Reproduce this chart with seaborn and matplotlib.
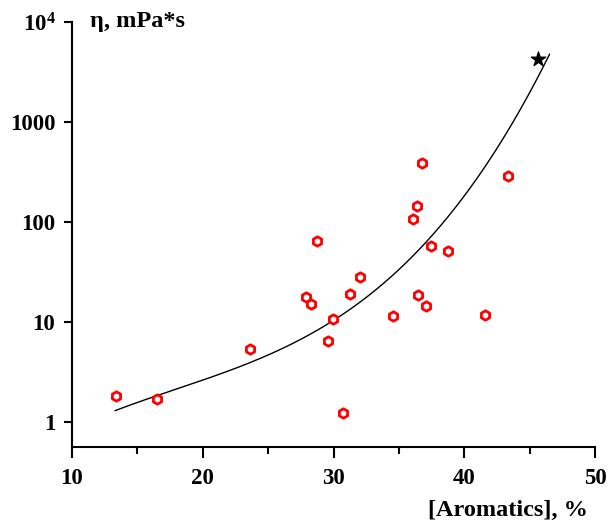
import numpy as np
import pandas as pd
import matplotlib
matplotlib.use("Agg")
import matplotlib.pyplot as plt
from matplotlib.ticker import FixedLocator, FixedFormatter, NullLocator, MultipleLocator
import seaborn as sns

# scatter data
aromatics = [13.37, 16.48, 23.6, 27.9, 28.3, 28.7, 29.55, 29.96, 30.7, 31.3, 32.0,
             34.55, 36.1, 36.4, 36.45, 36.8, 37.1, 37.46, 38.76, 41.6, 43.35]
viscosity = [1.82, 1.70, 5.37, 17.8, 15.1, 64.6, 6.5, 10.6, 1.23, 19.0, 28.0,
             11.5, 107, 145, 18.6, 389, 14.5, 57.5, 51.0, 11.7, 288]
star_x = [45.64]
star_y = [4270]

# fitted trend: log10(eta) = cubic polynomial in aromatics
fit_coeffs = [8.94086e-05, -0.00481059, 0.130383, -0.979754]
fit_range = [13.29, 46.53]

y_ticks = [1, 10, 100, 1000, 10000]
y_tick_labels = ["1", "10", "100", "1000", r"$\mathbf{10^4}$"]
x_ticks = [10, 20, 30, 40, 50]

sns.set_style("ticks")
plt.rcParams['font.family'] = ['Liberation Serif', 'DejaVu Serif']
plt.rcParams['font.weight'] = 'bold'
plt.rcParams['text.color'] = 'black'
plt.rcParams['mathtext.fontset'] = 'custom'
plt.rcParams['mathtext.rm'] = 'Liberation Serif'
plt.rcParams['mathtext.bf'] = 'Liberation Serif:bold'

fig = plt.figure(figsize=(6.1, 5.27), dpi=100)
ax = fig.add_axes([72/610, 1-447/527, (595-72)/610, (447-22)/527])

xs = np.linspace(fit_range[0], fit_range[1], 300)
curve = pd.DataFrame({"x": xs, "y": 10**np.polyval(fit_coeffs, xs)})
sns.lineplot(data=curve, x="x", y="y", ax=ax, color="black", lw=1.0)

df = pd.DataFrame({"x": aromatics, "y": viscosity})
sns.scatterplot(data=df, x="x", y="y", ax=ax, marker="h", s=46, facecolor="white",
                edgecolor="#ff0000", linewidth=2.0, zorder=3)
sns.scatterplot(x=star_x, y=star_y, ax=ax, marker="*", s=120, color="black",
                edgecolor="black", zorder=3)

ax.set_yscale("log")
ax.set_xlim(10, 50)
ax.set_ylim(10**-0.25, 1e4)

for s in ["top", "right"]:
    ax.spines[s].set_visible(False)
for s in ["left", "bottom"]:
    ax.spines[s].set_linewidth(1.5)
    ax.spines[s].set_color("black")

ax.yaxis.set_major_locator(FixedLocator(y_ticks))
ax.yaxis.set_major_formatter(FixedFormatter(y_tick_labels))
ax.yaxis.set_minor_locator(NullLocator())
ax.xaxis.set_major_locator(FixedLocator(x_ticks))
ax.xaxis.set_minor_locator(MultipleLocator(5))
ax.tick_params(axis="y", which="major", direction="out", length=6, width=1.5,
               labelsize=16.5, pad=6, colors="black")
ax.tick_params(axis="x", which="major", direction="out", length=8, width=1.5,
               labelsize=16.5, pad=7, colors="black")
ax.tick_params(axis="x", which="minor", direction="out", length=5, width=1.5, colors="black")
for lab in ax.get_xticklabels() + ax.get_yticklabels():
    lab.set_fontweight("bold")
    lab.set_color("black")

ax.set_xlabel("")
ax.set_ylabel("")
fig.text(90/610, 1-22/527, "η, mPa*s", fontsize=17.5, fontweight="bold", color="black",
         va="center", ha="left")
fig.text(588/610, 1-510/527, "[Aromatics], %", fontsize=17.5, fontweight="bold", color="black",
         va="center", ha="right")

plt.savefig("out.png", dpi=100)
